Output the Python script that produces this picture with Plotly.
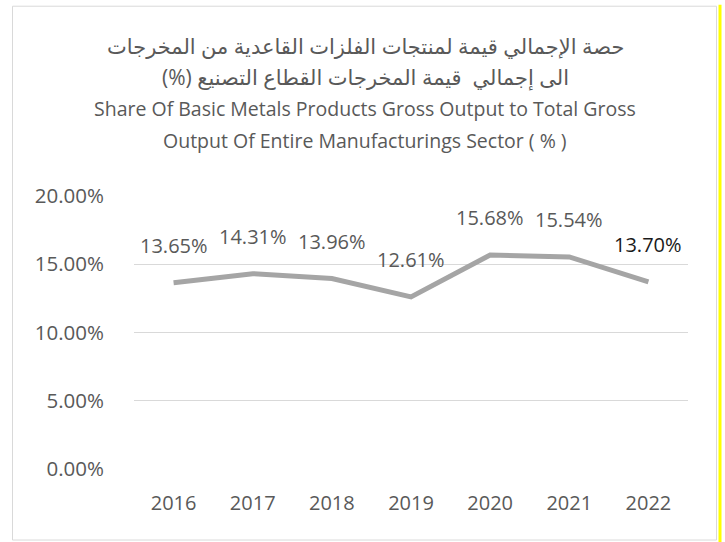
import plotly.graph_objects as go

years = [2016, 2017, 2018, 2019, 2020, 2021, 2022]
shares = [0.1365, 0.1431, 0.1396, 0.1261, 0.1568, 0.1554, 0.1370]
label_colors = ["#595959", "#595959", "#595959", "#595959", "#595959", "#595959", "#1a1a1a"]
y_ticks = [0.0, 0.05, 0.10, 0.15, 0.20]
title_lines = [
    "حصة الإجمالي قيمة لمنتجات الفلزات القاعدية من المخرجات",
    "الى إجمالي  قيمة المخرجات القطاع التصنيع (%)\u200F",
    "Share Of Basic Metals Products Gross Output to Total Gross",
    "Output Of Entire Manufacturings Sector ( % )",
]
title_sizes = [21, 21, 19.5, 19.5]

FONT = "Open Sans, DejaVu Sans, sans-serif"
W, H = 725, 542
# plot area in screen pixels
SX0, SX1, SY0, SY1 = 134, 688, 195.7, 469.3
L = SX0
R = W - SX1
T = SY0
B = H - SY1
pw, ph = SX1 - SX0, SY1 - SY0

def px_x(sx):
    return (sx - SX0) / pw

def px_y(sy):
    return (SY1 - sy) / ph

fig = go.Figure()
fig.add_trace(go.Scatter(
    x=years, y=shares, mode="lines",
    line=dict(color="#a5a5a5", width=5),
    hoverinfo="skip", showlegend=False,
))

annotations = []
for yr, v, c in zip(years, shares, label_colors):
    annotations.append(dict(
        x=yr, y=v, xref="x", yref="y", text=f"{v*100:.2f}%",
        showarrow=False, yshift=37, yanchor="middle", xanchor="center",
        font=dict(family=FONT, size=20, color=c),
    ))

title_y = [45, 76, 108, 140]
for txt, sy, fs in zip(title_lines, title_y, title_sizes):
    annotations.append(dict(
        x=px_x(365), y=px_y(sy), xref="paper", yref="paper", text=txt,
        showarrow=False, xanchor="center", yanchor="middle",
        font=dict(family=FONT, size=fs, color="#595959"),
    ))

shapes = [
    dict(type="rect", xref="paper", yref="paper",
         x0=px_x(12.5), x1=px_x(716.5), y0=px_y(540.5), y1=px_y(5.5),
         line=dict(color="#d9d9d9", width=1), fillcolor="rgba(0,0,0,0)", layer="below"),
    dict(type="line", xref="paper", yref="paper",
         x0=px_x(720), x1=px_x(720), y0=px_y(545), y1=px_y(4),
         line=dict(color="#ffff00", width=3)),
]

fig.update_layout(
    width=W, height=H,
    margin=dict(l=L, r=R, t=T, b=B, pad=0),
    paper_bgcolor="white", plot_bgcolor="white",
    showlegend=False,
    annotations=annotations,
    shapes=shapes,
    xaxis=dict(
        range=[years[0] - 0.5, years[-1] + 0.5], tickvals=years,
        showgrid=False, zeroline=False, showline=False,
        ticks="", ticklabelstandoff=20,
        tickfont=dict(family=FONT, size=20, color="#595959"),
    ),
    yaxis=dict(
        range=[0, 0.2], tickvals=y_ticks, tickformat=".2%",
        showgrid=True, gridcolor="#d9d9d9", gridwidth=1,
        zeroline=False, showline=False, ticks="", ticklabelstandoff=29,
        tickfont=dict(family=FONT, size=20.5, color="#595959"),
    ),
)

fig.write_html(
    "out.html",
    config={"displayModeBar": False},
    post_script="document.body.style.margin='0';",
)
